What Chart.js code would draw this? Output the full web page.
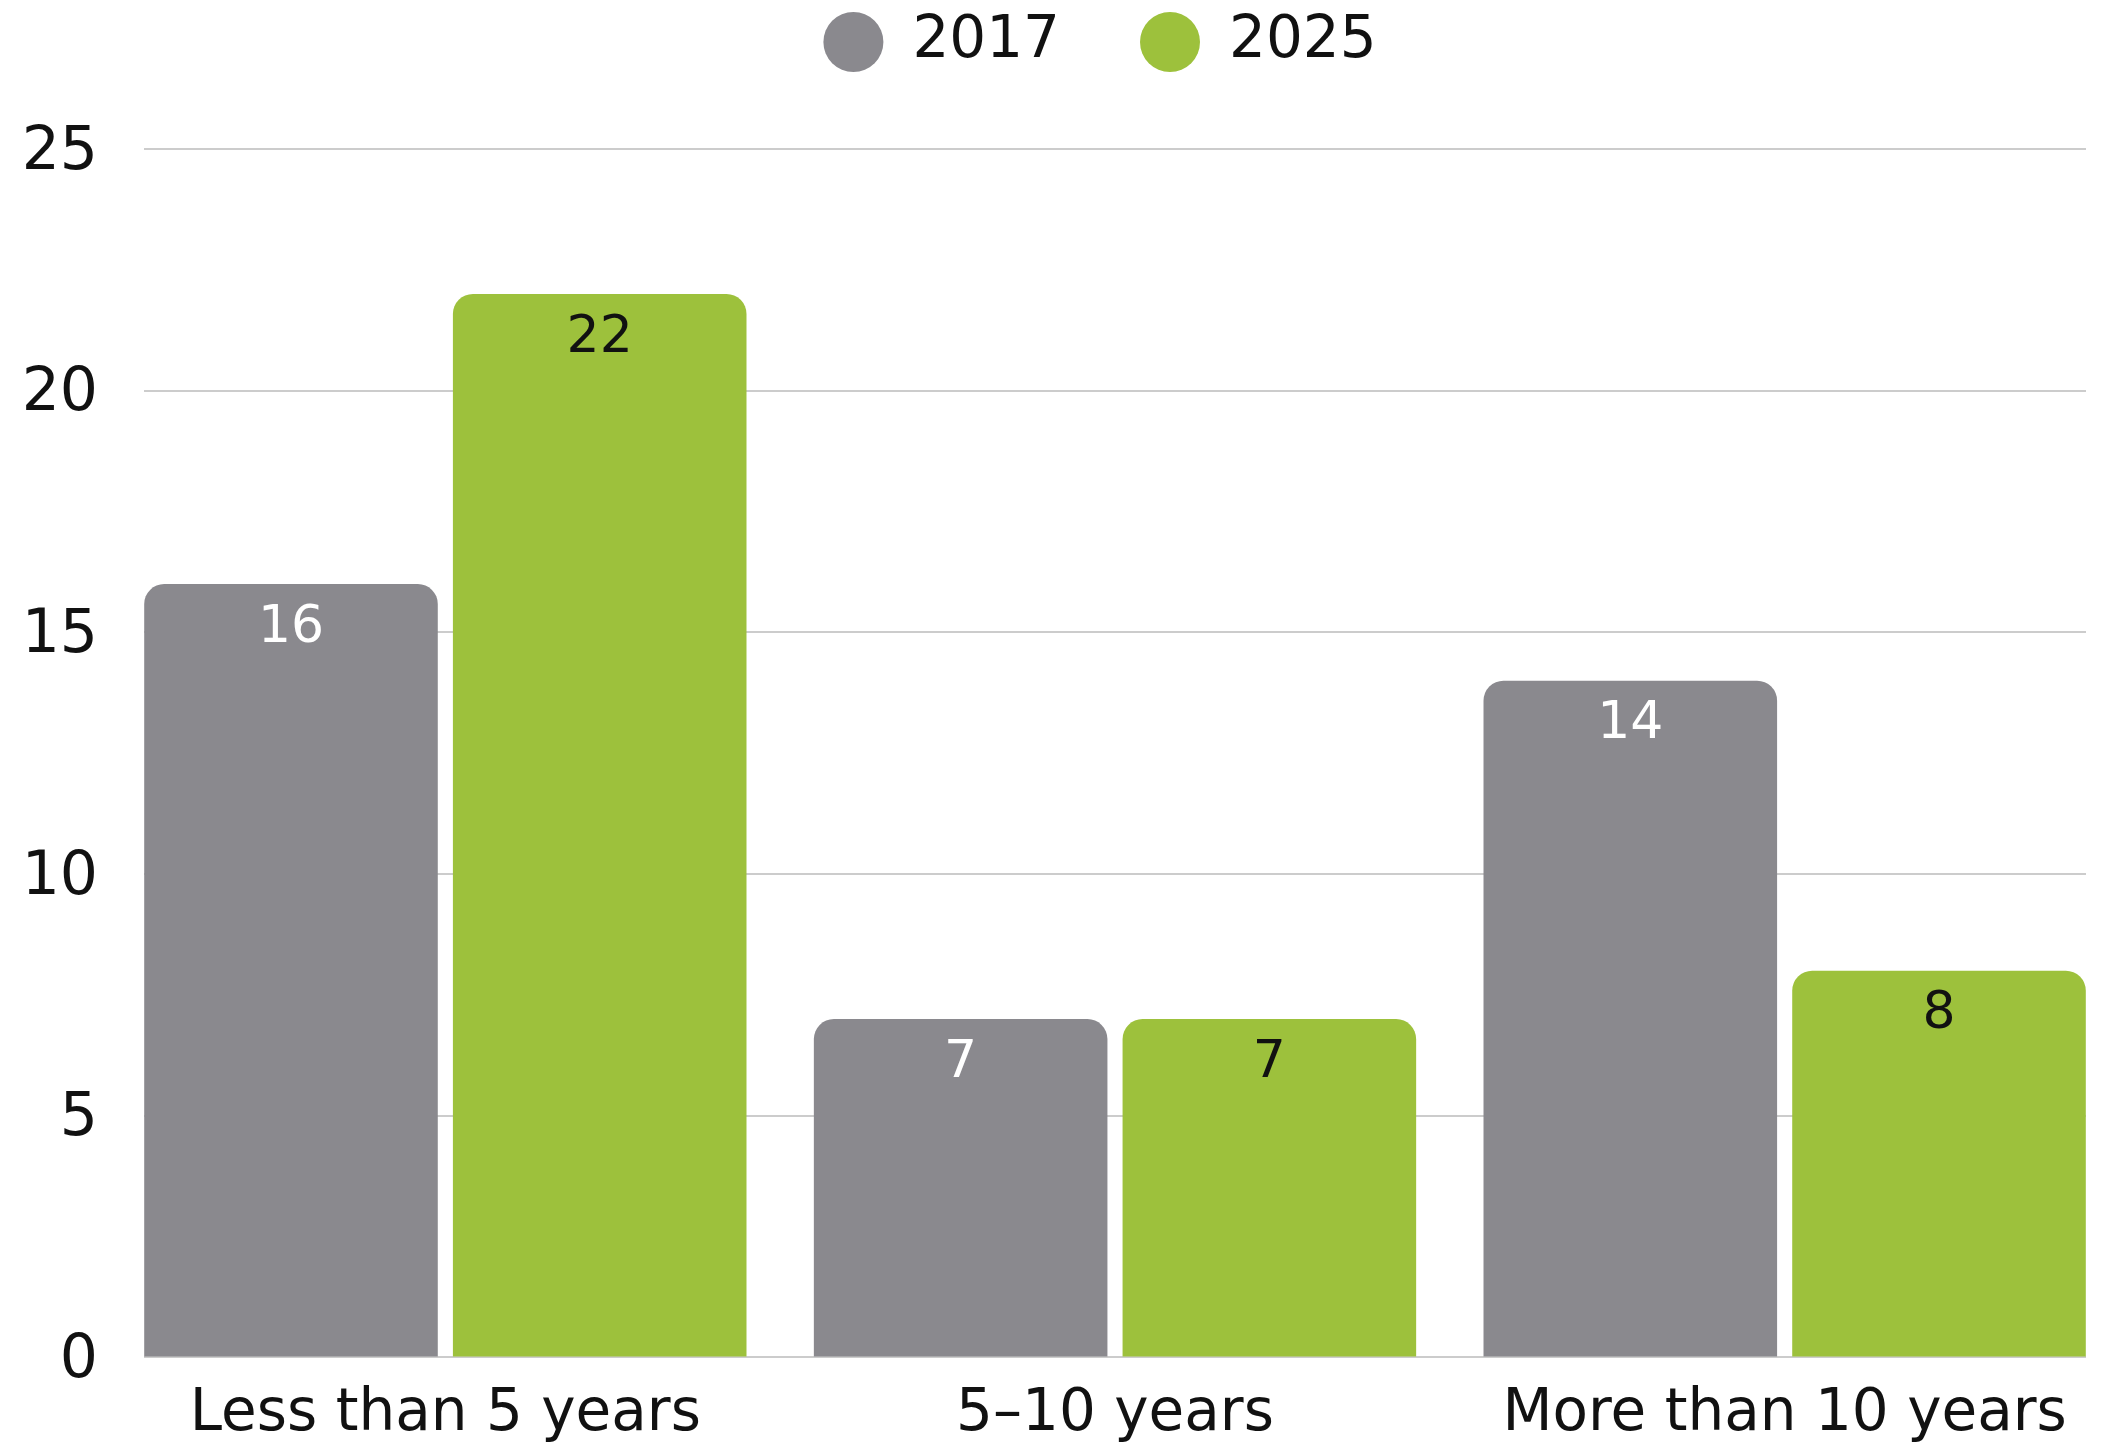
<!DOCTYPE html>
<html>
<head>
<meta charset="utf-8">
<script src="https://cdn.jsdelivr.net/npm/chart.js@4/dist/chart.umd.min.js"></script>
<style>
    html, body { margin: 0; padding: 0; background: #fff; }
    #wrap { width: 2109px; height: 1446px; position: relative; }
</style>
</head>
<body>
<div id="wrap"><canvas id="tenureChart"></canvas></div>
<script>
// Data
const categories = ['Less than 5 years', '5\u201310 years', 'More than 10 years'];
const years = ['2017', '2025'];
const values2017 = [16, 7, 14];
const values2025 = [22, 7, 8];
const yTicks = [0, 5, 10, 15, 20, 25];

const FONT = '"DejaVu Sans", sans-serif';
const GRAY = '#8a898e';
const GREEN = '#9dc13c';

const toPoints = arr => arr.map((v, i) => ({ x: i, y: v }));

// Value labels inside the top of each bar
const barLabels = {
    id: 'barLabels',
    afterDatasetsDraw(chart) {
        const ctx = chart.ctx;
        ctx.save();
        ctx.font = '52px ' + FONT;
        ctx.textAlign = 'center';
        ctx.textBaseline = 'middle';
        chart.data.datasets.forEach((ds, di) => {
            const meta = chart.getDatasetMeta(di);
            ctx.fillStyle = ds.labelColor;
            meta.data.forEach((bar, i) => {
                ctx.fillText(ds.data[i].y, bar.x, bar.y + 44);
            });
        });
        ctx.restore();
    }
};

// Room below the legend, and nudge it right
const legendGap = {
    id: 'legendGap',
    beforeInit(chart) {
        const fit = chart.legend.fit;
        chart.legend.fit = function() {
            fit.bind(chart.legend)();
            this.height += 68;
        };
    },
    afterLayout(chart) {
        chart.legend.left += 57;
        chart.legend.right += 57;
    }
};

const ctx = document.getElementById('tenureChart').getContext('2d');

new Chart(ctx, {
    type: 'bar',
    data: {
        datasets: [{
            label: years[0],
            data: toPoints(values2017),
            backgroundColor: GRAY,
            labelColor: '#ffffff',
            borderRadius: { topLeft: 20, topRight: 20, bottomLeft: 0, bottomRight: 0 },
            borderSkipped: 'start'
        }, {
            label: years[1],
            data: toPoints(values2025),
            backgroundColor: GREEN,
            labelColor: '#111111',
            borderRadius: { topLeft: 20, topRight: 20, bottomLeft: 0, bottomRight: 0 },
            borderSkipped: 'start'
        }]
    },
    options: {
        responsive: true,
        maintainAspectRatio: false,
        animation: false,
        categoryPercentage: 0.922,
        barPercentage: 0.951,
        layout: {
            padding: { top: -67, left: 0, right: 23, bottom: -27 }
        },
        plugins: {
            legend: {
                position: 'top',
                labels: {
                    usePointStyle: true,
                    pointStyle: 'circle',
                    pointStyleWidth: 60,
                    boxHeight: 42.4,
                    padding: 80,
                    color: '#111',
                    font: { family: FONT, size: 58 }
                }
            },
            tooltip: { enabled: false }
        },
        scales: {
            x: {
                type: 'linear',
                offset: false,
                min: -0.45,
                max: 2.45,
                afterBuildTicks: scale => {
                    scale.ticks = categories.map((c, i) => ({ value: i }));
                },
                grid: { display: false, drawTicks: false },
                border: { display: false },
                ticks: {
                    padding: 23,
                    maxRotation: 0,
                    autoSkip: false,
                    color: '#111',
                    font: { family: FONT, size: 58 },
                    callback: value => categories[value]
                }
            },
            y: {
                min: 0,
                max: 25,
                afterBuildTicks: scale => {
                    scale.ticks = yTicks.map(v => ({ value: v }));
                },
                afterFit: scale => {
                    scale.width = 144;
                },
                grid: {
                    color: '#cccccc',
                    lineWidth: 2,
                    drawTicks: false
                },
                border: { display: false },
                ticks: {
                    padding: 46,
                    labelOffset: 4,
                    color: '#111',
                    font: { family: FONT, size: 60 }
                }
            }
        }
    },
    plugins: [barLabels, legendGap]
});
</script>
</body>
</html>
